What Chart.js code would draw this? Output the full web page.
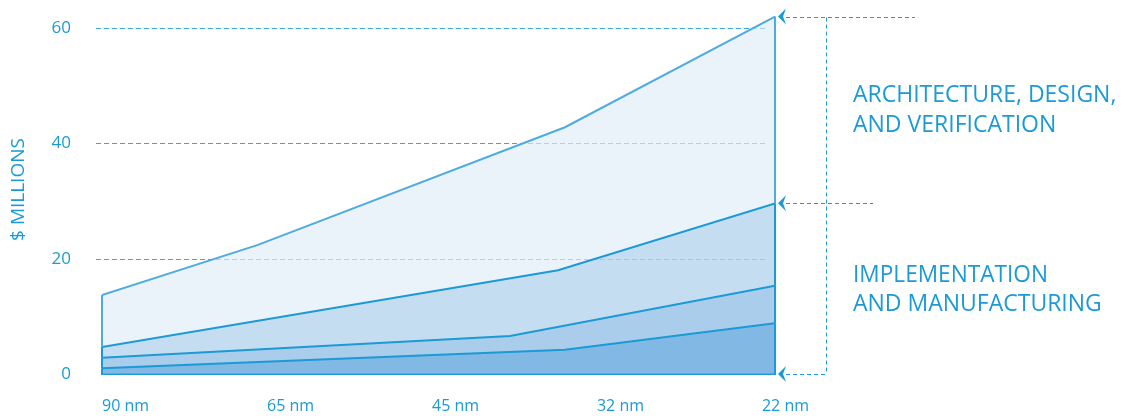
<!DOCTYPE html>
<html>
<head>
<meta charset="utf-8">
<script src="https://cdn.jsdelivr.net/npm/chart.js@4"></script>
<style>
  body { margin: 0; background: #fff; }
  #wrap { width: 1124px; height: 419px; position: relative; }
</style>
</head>
<body>
<div id="wrap"><canvas id="grafico"></canvas></div>
<script>
// Etiquetas del eje X (nodos de proceso)
const nodos = ["90 nm", "65 nm", "45 nm", "32 nm", "22 nm"];
const xFin = 4.079; // ultimo punto, un poco a la derecha de "22 nm"

// Lineas acumuladas (borde superior de cada capa), $ millones
const capa1X = [0, 2.806, xFin];
const capa1Y = [1.0, 4.2, 8.8];
const capa2X = [0, 2.473, xFin];
const capa2Y = [2.8, 6.6, 15.3];
const capa3X = [0, 2.764, xFin];
const capa3Y = [4.7, 18.0, 29.6];
const capa4X = [0, 0.945, 2.806, xFin];
const capa4Y = [13.7, 22.4, 42.8, 62.0];

const ticksY = [0, 20, 40, 60];
const etiquetasDerecha = [
  ["ARCHITECTURE, DESIGN,", "AND VERIFICATION"],
  ["IMPLEMENTATION", "AND MANUFACTURING"]
];

const azul = "#1b9ad6";
const azulClaro = "#4fabe0";
const fuente = "'Open Sans', 'Noto Sans', sans-serif";

function puntos(xs, ys) {
  return xs.map((x, i) => ({ x: x, y: ys[i] }));
}

// Rejilla discontinua propia (no llega al borde derecho)
const rejilla = {
  id: "rejilla",
  beforeDatasetsDraw(chart) {
    const { ctx, chartArea, scales } = chart;
    ctx.save();
    ctx.strokeStyle = "#3aa7e0";
    ctx.lineWidth = 1;
    ctx.setLineDash([5, 3]);
    ticksY.forEach(v => {
      if (v === 0) return;
      const y = Math.round(scales.y.getPixelForValue(v)) + 0.5;
      ctx.beginPath();
      ctx.moveTo(chartArea.left - 6, y);
      ctx.lineTo(chartArea.right - 10, y);
      ctx.stroke();
    });
    ctx.restore();
  }
};

// Bordes verticales de cada capa en los extremos
const bordes = {
  id: "bordes",
  afterDatasetsDraw(chart) {
    const { ctx, scales } = chart;
    const ds = chart.data.datasets;
    ctx.save();
    ctx.lineWidth = 2;
    ds.forEach((d, i) => {
      const datos = d.data;
      const prev = i > 0 ? ds[i - 1].data : null;
      [0, datos.length - 1].forEach((k, j) => {
        const p = datos[k];
        const abajo = prev ? (j === 0 ? prev[0].y : prev[prev.length - 1].y) : 0;
        const x = scales.x.getPixelForValue(p.x);
        ctx.strokeStyle = d.borderColor;
        ctx.beginPath();
        ctx.moveTo(x, scales.y.getPixelForValue(p.y));
        ctx.lineTo(x, scales.y.getPixelForValue(abajo));
        ctx.stroke();
      });
    });
    ctx.restore();
  }
};

// Flechas, corchete discontinuo y textos a la derecha
const anotaciones = {
  id: "anotaciones",
  afterDraw(chart) {
    const { ctx, chartArea, scales } = chart;
    const yTop = scales.y.getPixelForValue(capa4Y[capa4Y.length - 1]);
    const yMed = scales.y.getPixelForValue(capa3Y[capa3Y.length - 1]);
    const yCero = scales.y.getPixelForValue(0);
    const xPunta = chartArea.right + 3;
    const xCorchete = chartArea.right + 51.5;

    ctx.save();
    ctx.strokeStyle = azul;
    ctx.fillStyle = azul;
    ctx.lineWidth = 1;
    ctx.setLineDash([4, 3]);
    const lineas = [[yTop, chartArea.right + 140], [yMed, chartArea.right + 98], [yCero, xCorchete]];
    lineas.forEach(([y, xf]) => {
      const yy = Math.round(y) + 0.5;
      ctx.beginPath();
      ctx.moveTo(xPunta + 8, yy);
      ctx.lineTo(xf, yy);
      ctx.stroke();
    });
    ctx.beginPath();
    ctx.moveTo(xCorchete, Math.round(yTop) + 0.5);
    ctx.lineTo(xCorchete, Math.round(yCero) + 0.5);
    ctx.stroke();
    ctx.setLineDash([]);

    [yTop, yMed, yCero].forEach(y => {
      ctx.beginPath();
      ctx.moveTo(xPunta, y);
      ctx.lineTo(xPunta + 8, y - 8);
      ctx.lineTo(xPunta + 5, y);
      ctx.lineTo(xPunta + 8, y + 8);
      ctx.closePath();
      ctx.fill();
    });

    ctx.font = "23px " + fuente;
    ctx.textBaseline = "alphabetic";
    ctx.textAlign = "left";
    const xt = chartArea.right + 78;
    const anchos = [[265, 205], [195, 251]];
    const bases = [[102, 132], [282, 311]];
    etiquetasDerecha.forEach((bloque, b) => {
      bloque.forEach((t, l) => {
        ctx.fillText(t, xt, bases[b][l], anchos[b][l]);
      });
    });
    ctx.restore();
  }
};

new Chart(document.getElementById("grafico"), {
  type: "line",
  data: {
    datasets: [
      { data: puntos(capa1X, capa1Y), borderColor: azul, backgroundColor: "rgba(108,172,223,0.85)", fill: "origin" },
      { data: puntos(capa2X, capa2Y), borderColor: azul, backgroundColor: "rgb(169,205,234)", fill: "-1" },
      { data: puntos(capa3X, capa3Y), borderColor: azul, backgroundColor: "rgba(182,212,236,0.8)", fill: "-1" },
      { data: puntos(capa4X, capa4Y), borderColor: azulClaro, backgroundColor: "rgba(223,235,247,0.66)", fill: "-1" }
    ]
  },
  options: {
    responsive: true,
    maintainAspectRatio: false,
    animation: false,
    layout: { autoPadding: false, padding: { top: 5, right: 349, left: 0, bottom: 0 } },
    elements: {
      line: { borderWidth: 2, tension: 0 },
      point: { radius: 0 }
    },
    plugins: {
      legend: { display: false },
      tooltip: { enabled: false }
    },
    scales: {
      x: {
        type: "linear",
        min: 0,
        max: xFin,
        z: 1,
        afterFit: s => { s.height = 45; s.paddingLeft = 0; s.paddingRight = 0; },
        afterBuildTicks: s => { s.ticks = nodos.map((n, i) => ({ value: i })); },
        grid: { display: false, drawTicks: false },
        border: { display: true, color: azul, width: 2 },
        ticks: {
          align: "start",
          maxRotation: 0,
          padding: 23,
          color: azul,
          font: { family: fuente, size: 16 },
          callback: v => nodos[v]
        }
      },
      y: {
        min: 0,
        max: 64,
        // el padding de las etiquetas no debe empujar el area hacia abajo
        afterFit: s => { s.width = 102; s.paddingTop = 0; s.paddingBottom = 0; },
        afterBuildTicks: s => { s.ticks = ticksY.map(v => ({ value: v })); },
        grid: { display: false, drawTicks: false },
        border: { display: false },
        ticks: {
          padding: 31,
          color: azul,
          font: { family: fuente, size: 17 }
        },
        title: {
          display: true,
          text: "$ MILLIONS",
          color: azul,
          font: { family: fuente, size: 19 },
          padding: { top: 7, bottom: 0 }
        }
      }
    }
  },
  plugins: [rejilla, bordes, anotaciones]
});
</script>
</body>
</html>
